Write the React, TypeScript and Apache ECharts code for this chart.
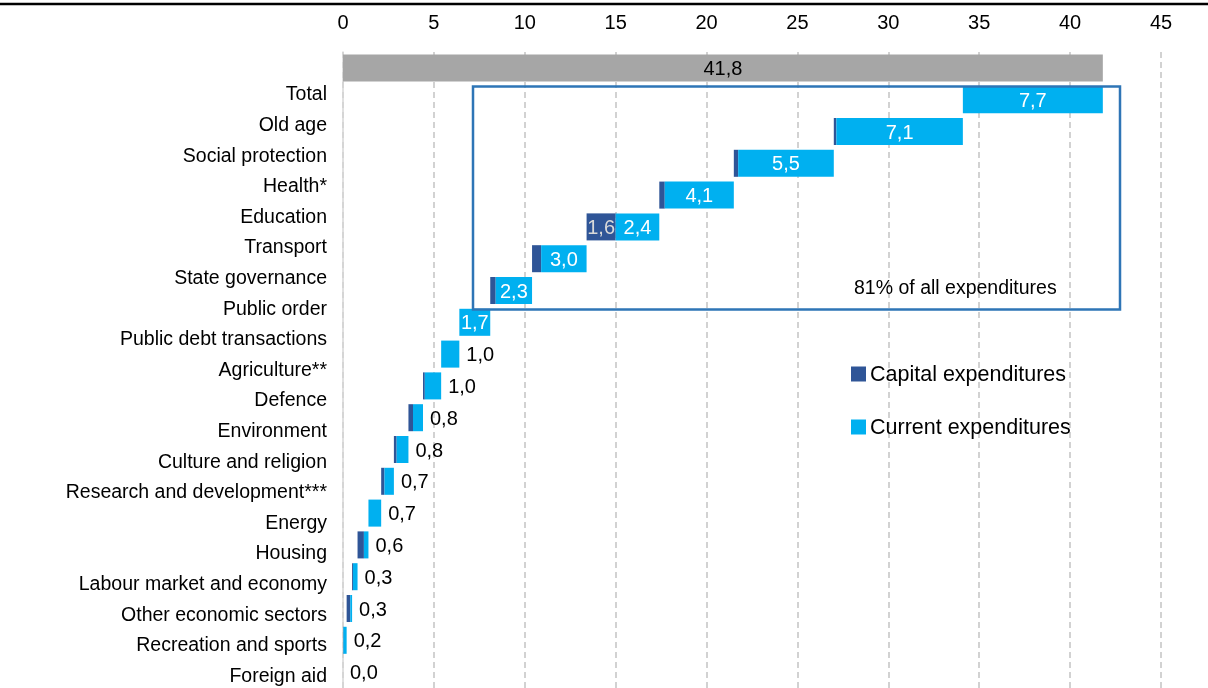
import React, { useEffect, useRef } from "react";
import * as echarts from "echarts";

// Spending areas, top to bottom (first row is the overall total)
const categories = [
  "Total",
  "Old age",
  "Social protection",
  "Health*",
  "Education",
  "Transport",
  "State governance",
  "Public order",
  "Public debt transactions",
  "Agriculture**",
  "Defence",
  "Environment",
  "Culture and religion",
  "Research and development***",
  "Energy",
  "Housing",
  "Labour market and economy",
  "Other economic sectors",
  "Recreation and sports",
  "Foreign aid",
];

// Total expenditure per area (capital + current)
const rowTotals = [
  41.8, 7.7, 7.1, 5.5, 4.1, 4.0, 3.0, 2.3, 1.7, 1.0, 1.0, 0.8, 0.8, 0.7, 0.7,
  0.6, 0.3, 0.3, 0.2, 0.0,
];

// Capital part of each area's expenditure
const capitalValues = [
  0, 0, 0.14, 0.24, 0.3, 1.6, 0.5, 0.3, 0, 0, 0.1, 0.25, 0.15, 0.18, 0, 0.35,
  0.05, 0.2, 0.02, 0,
];

// Areas whose capital part carries its own label
const capitalLabelled = ["Transport"];

// Value axis ticks
const axisMin = 0;
const axisMax = 45;
const axisStep = 5;

const boxNote = "81% of all expenditures";

const DARK = "#2F5597";
const LIGHT = "#00B0F0";
const GREY = "#A6A6A6";
const FONT = "'Liberation Sans', Arial, sans-serif";

const fmt = (v: number) => v.toFixed(1).replace(".", ",");

export default function App() {
  const ref = useRef<HTMLDivElement>(null);

  useEffect(() => {
    if (!ref.current) return;
    const chart = echarts.init(ref.current, null, { renderer: "svg" });

    const n = categories.length;
    // invisible base of each waterfall step: everything listed below it
    const offsets: (number | null)[] = categories.map((_, i) => {
      if (i === 0) return null;
      let s = 0;
      for (let j = i + 1; j < n; j++) s += rowTotals[j];
      return s;
    });
    const capital = categories.map((_, i) => (i === 0 ? null : capitalValues[i]));
    const current = categories.map((_, i) =>
      i === 0 ? null : rowTotals[i] - capitalValues[i]
    );
    const totalBar = categories.map((_, i) => (i === 0 ? rowTotals[0] : null));

    const capitalData = capital.map((v, i) => {
      if (v === null) return null;
      const labelled = capitalLabelled.includes(categories[i]);
      return {
        value: v,
        label: {
          show: labelled,
          position: "inside",
          color: "#D9D9D9",
          fontSize: 20,
          fontFamily: FONT,
          formatter: () => fmt(v),
        },
      };
    });

    const currentData = current.map((v, i) => {
      if (v === null) return null;
      const split = capitalLabelled.includes(categories[i]);
      const text = split ? fmt(v) : fmt(rowTotals[i]);
      const inside = rowTotals[i] >= 1.5;
      return {
        value: v,
        label: {
          show: true,
          position: inside ? "inside" : "right",
          distance: 7,
          color: inside ? "#FFFFFF" : "#000000",
          fontSize: 20,
          fontFamily: FONT,
          formatter: () => text,
        },
      };
    });

    chart.setOption({
      animation: false,
      textStyle: { fontFamily: FONT },
      grid: [
        {
          left: 343,
          right: 47,
          top: 52,
          height: 636,
          outerBoundsMode: "none",
          containLabel: false,
        },
        {
          left: 343,
          right: 47,
          top: 78,
          height: 612,
          outerBoundsMode: "none",
          containLabel: false,
        },
      ],
      xAxis: [
        {
          type: "value",
          gridIndex: 0,
          position: "top",
          min: axisMin,
          max: axisMax,
          interval: axisStep,
          axisLine: { show: false },
          axisTick: { show: false },
          axisLabel: {
            color: "#000",
            fontSize: 20,
            fontFamily: FONT,
            margin: 20,
          },
          splitLine: {
            show: true,
            lineStyle: { color: "#C4C4C4", width: 1.5, type: [6, 4] },
          },
        },
        {
          type: "value",
          gridIndex: 1,
          show: false,
          min: axisMin,
          max: axisMax,
        },
      ],
      yAxis: [
        {
          type: "category",
          gridIndex: 0,
          data: categories,
          inverse: true,
          axisLabel: { show: false },
          axisTick: { show: false },
          axisLine: { show: true, lineStyle: { color: "#D6D6D6", width: 1.5 } },
          splitLine: { show: false },
        },
        {
          type: "category",
          gridIndex: 1,
          data: categories,
          inverse: true,
          axisLabel: {
            color: "#000",
            fontSize: 19.5,
            fontFamily: FONT,
            margin: 16,
          },
          axisTick: { show: false },
          axisLine: { show: false },
          splitLine: { show: false },
        },
      ],
      legend: {
        orient: "vertical",
        left: 851,
        top: 363,
        icon: "rect",
        itemWidth: 15,
        itemHeight: 15,
        itemGap: 31,
        padding: 0,
        data: ["Capital expenditures", "Current expenditures"],
        textStyle: {
          color: "#000",
          fontSize: 21.5,
          lineHeight: 22,
          fontFamily: FONT,
          padding: [0, 0, 0, -1],
        },
      },
      series: [
        {
          name: "base",
          type: "bar",
          stack: "w",
          barCategoryGap: "15%",
          itemStyle: { color: "transparent" },
          emphasis: { disabled: true },
          silent: true,
          data: offsets,
        },
        {
          name: "Capital expenditures",
          type: "bar",
          stack: "w",
          barCategoryGap: "15%",
          itemStyle: { color: DARK },
          data: capitalData,
        },
        {
          name: "Current expenditures",
          type: "bar",
          stack: "w",
          barCategoryGap: "15%",
          itemStyle: { color: LIGHT },
          data: currentData,
        },
        {
          name: "Total",
          type: "bar",
          stack: "w",
          barCategoryGap: "15%",
          itemStyle: { color: GREY },
          label: {
            show: true,
            position: "inside",
            color: "#000",
            fontSize: 20,
            fontFamily: FONT,
            formatter: (p: any) => fmt(p.value),
          },
          data: totalBar,
        },
      ],
      graphic: [
        {
          type: "line",
          shape: { x1: 0, y1: 4, x2: 1208, y2: 4 },
          style: { stroke: "#000", lineWidth: 2.5 },
          silent: true,
        },
        {
          type: "rect",
          shape: { x: 473, y: 86.5, width: 647, height: 223 },
          style: { fill: "none", stroke: "#2E75B6", lineWidth: 2.5 },
          silent: true,
          z: 10,
        },
        {
          type: "text",
          x: 854,
          y: 287,
          style: {
            text: boxNote,
            fontSize: 19.5,
            fontFamily: FONT,
            fill: "#000",
            verticalAlign: "middle",
          },
          silent: true,
          z: 10,
        },
      ],
    });

    return () => chart.dispose();
  }, []);

  return (
    <div
      ref={ref}
      style={{ position: "fixed", left: 0, top: 0, width: 1208, height: 688 }}
    />
  );
}
